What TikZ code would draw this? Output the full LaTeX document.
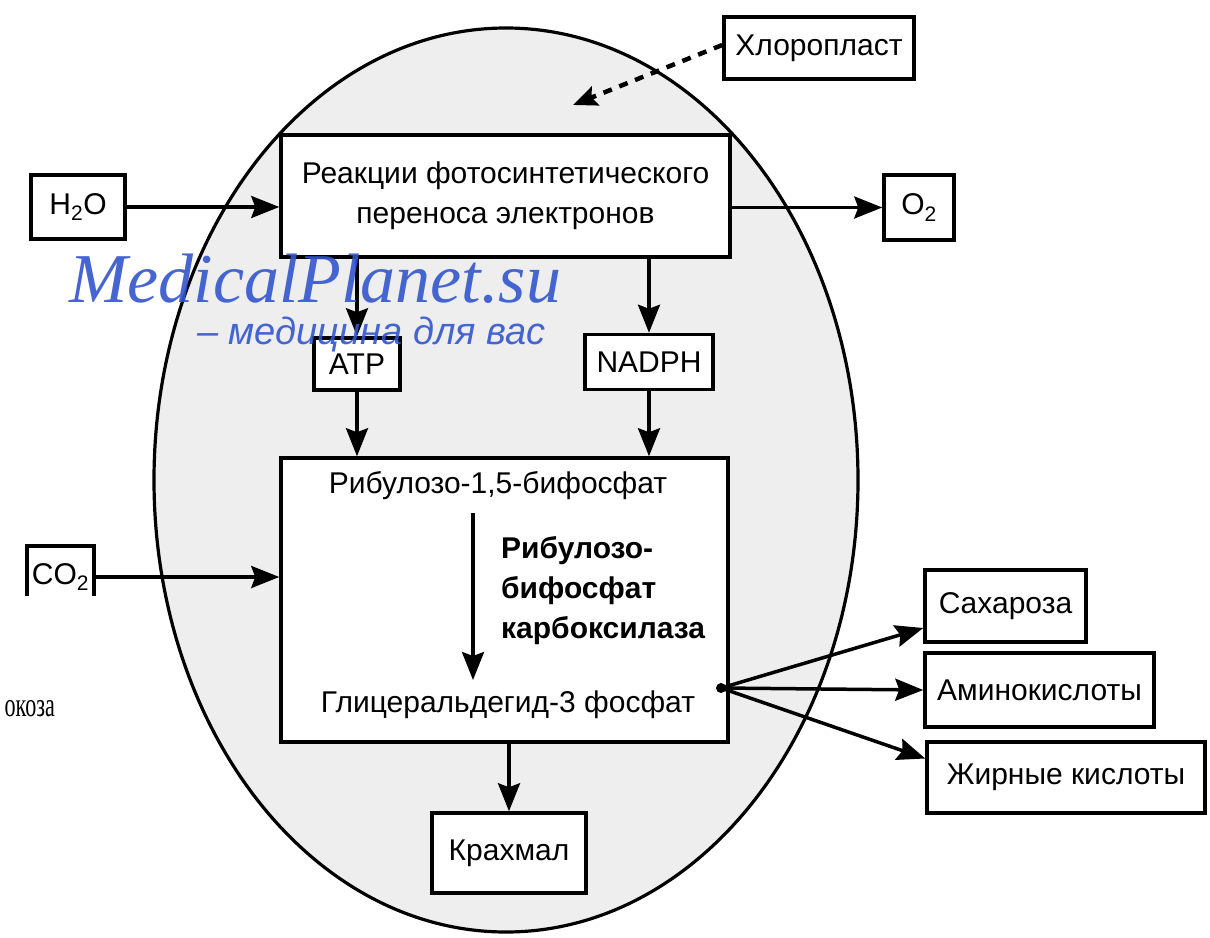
\documentclass[tikz,border=0pt]{standalone}
\usepackage{fontspec}
\setmainfont{Liberation Sans}
\newfontfamily\wmserif{Liberation Serif}
\usetikzlibrary{arrows.meta,calc}
\definecolor{wm}{RGB}{50,85,205}
\definecolor{cellfill}{RGB}{238,238,238}
\begin{document}
\begin{tikzpicture}[x=1pt,y=-1pt,
  box/.style={draw=black,line width=3.5pt,fill=white,inner sep=0pt,font=\fontsize{30}{40}\selectfont},
  arr/.style={line width=3.5pt,-{Stealth[length=28pt,width=22pt,inset=4pt]}},
  dasharr/.style={line width=4.5pt,dash pattern=on 9pt off 8pt,-{Stealth[length=24pt,width=20pt,inset=4pt]}},
  txt/.style={font=\fontsize{30}{40}\selectfont,inner sep=0pt},
  btxt/.style={font=\fontsize{30}{40}\selectfont\bfseries,inner sep=0pt},
]
\useasboundingbox (0,0) rectangle (1210,937);
\fill[white] (0,0) rectangle (1210,937);
% chloroplast body
\draw[line width=3.2pt,fill=cellfill] (506,480) ellipse [x radius=352, y radius=452];

% boxes
\node[box,minimum width=190pt,minimum height=62pt] (chl) at (819,48) {Хлоропласт};
\node[box,minimum width=449pt,minimum height=122pt,align=center] (r1) at (505.5,196) {Реакции фотосинтетического\\переноса электронов};
\node[box,minimum width=94pt,minimum height=64pt] (h2o) at (78,207) {H\textsubscript{2}O};
\node[box,minimum width=70pt,minimum height=65pt] (o2) at (919,207.5) {O\textsubscript{2}};
\node[box,minimum width=86pt,minimum height=52pt] (atp) at (357,364) {ATP};
\node[box,minimum width=128pt,minimum height=55pt] (nadph) at (649,362) {NADPH};
\node[box,minimum width=447pt,minimum height=284pt] (b2) at (504.5,600) {};
\node[box,minimum width=67pt,minimum height=62pt] (co2) at (60.5,577) {CO\textsubscript{2}};
\node[box,minimum width=154pt,minimum height=80pt] (kr) at (509,853) {Крахмал};
\node[box,minimum width=161pt,minimum height=72pt] (sax) at (1005.5,606) {Сахароза};
\node[box,minimum width=229pt,minimum height=74pt] (amino) at (1039.5,690) {Аминокислоты};
\node[box,minimum width=278pt,minimum height=71pt] (fat) at (1066,777.5) {Жирные кислоты};

% texts inside the Calvin box
\node[txt,anchor=base] (rubp) at (498,493) {Рибулозо-1,5-бифосфат};
\node[btxt,anchor=base west] (enz1) at (501,558) {Рибулозо-};
\node[btxt,anchor=base west] (enz2) at (501,598) {бифосфат};
\node[btxt,anchor=base west] (enz3) at (501,638) {карбоксилаза};
\node[txt,anchor=base] (g3p) at (508,712) {Глицеральдегид-3 фосфат};
\coordinate (ctop) at (473,513);
\coordinate (cbot) at (473,680);
\coordinate (fan) at (721,688);
\coordinate (dtip) at (573,105);

% connectors
\draw[dasharr] ([yshift=3pt]chl.west) -- (dtip);
\draw[arr] (h2o.east) -- (h2o.east -| r1.west);
\draw[arr] (r1.east |- o2.west) -- (o2.west);
\draw[arr] (r1.south -| atp.north) -- (atp.north);
\draw[arr] (atp.south) -- (atp.south |- b2.north);
\draw[arr] (r1.south -| nadph.north) -- (nadph.north);
\draw[arr] (nadph.south) -- (nadph.south |- b2.north);
\draw[arr] (co2.east) -- (co2.east -| b2.west);
\draw[arr] (ctop) -- (cbot);
\draw[arr] (b2.south -| kr.north) -- (kr.north);
\fill (fan) circle[radius=5pt];
\draw[arr] (fan) -- ([yshift=-22pt]sax.west);
\draw[arr] (fan) -- (amino.west);
\draw[arr] (fan) -- ([yshift=19pt]fat.west);

% cropped lower part of the CO2 box
\fill[white] (0,596) rectangle (99,640);
\node[font=\wmserif\fontsize{34}{34}\selectfont,inner sep=0pt,anchor=base east,xscale=0.65] (glu) at (55,716) {окоза};

% watermark
\node[font=\wmserif\itshape\fontsize{70}{70}\selectfont,text=wm,text opacity=0.9,inner sep=0pt,anchor=base west] (wm1) at (69,302) {MedicalPlanet.su};
\node[font=\itshape\fontsize{38}{38}\selectfont,text=wm,text opacity=0.9,inner sep=0pt,anchor=base west] (wm2) at (197,344) {– медицина для вас};
\end{tikzpicture}
\end{document}
